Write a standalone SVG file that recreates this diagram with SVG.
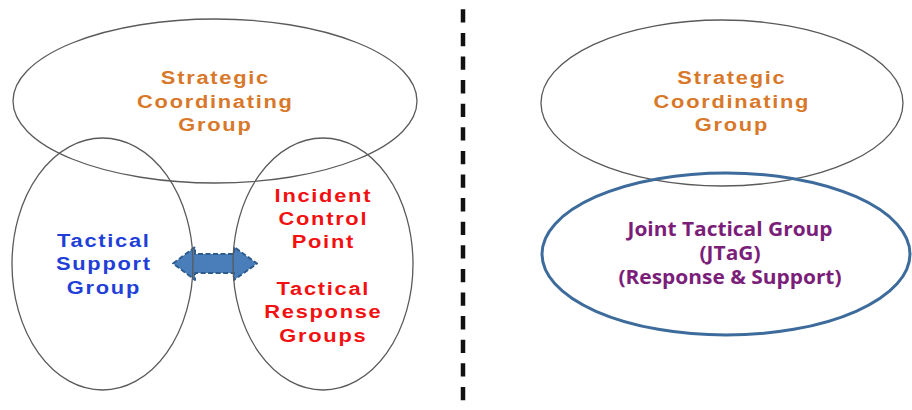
<svg xmlns="http://www.w3.org/2000/svg" width="912" height="410" viewBox="0 0 912 410">
  <style>
    .ring { fill: none; stroke: #5a5a5a; stroke-width: 1.3; }
    .lbl { font-family: "Liberation Sans", Arial, sans-serif; font-weight: bold; font-size: 19px; letter-spacing: 1.5px; text-anchor: middle; }
    .scg { fill: #D8782A; }
    .tsg { fill: #1F3FD8; }
    .red { fill: #F21010; }
    .jtg { font-family: "Open Sans", "Liberation Sans", sans-serif; font-weight: bold; font-size: 19px; text-anchor: middle; fill: #7A1E7A; }
  </style>
  <rect width="912" height="410" fill="#ffffff"/>

  <!-- two-way link between support and response groups -->
  <g id="connectors">
    <polygon points="173,263.5 195,247 195,254 234,254 234,247 257,263.5 234,280 234,273 195,273 195,280" fill="#4A7EBB" stroke="#2E5C8C" stroke-width="2" stroke-dasharray="5 2.5" stroke-linejoin="round"/>
  </g>

  <!-- page divider -->
  <line id="divider" x1="463" y1="9.3" x2="463" y2="410" stroke="#111" stroke-width="4.5" stroke-dasharray="13.3 10.3"/>

  <!-- left: current structure -->
  <g id="scg-left">
    <ellipse class="ring" cx="215" cy="101" rx="202" ry="82"/>
    <g transform="translate(214.5,0) scale(1.15,1)">
      <text class="lbl scg" x="0.75" y="84.5">Strategic</text>
      <text class="lbl scg" x="0.75" y="108">Coordinating</text>
      <text class="lbl scg" x="0.75" y="131.5">Group</text>
    </g>
  </g>

  <g id="tactical-support">
    <ellipse class="ring" cx="102.5" cy="264" rx="90.5" ry="126"/>
    <g transform="translate(103,0) scale(1.15,1)">
      <text class="lbl tsg" x="0.75" y="247">Tactical</text>
      <text class="lbl tsg" x="0.75" y="270.5">Support</text>
      <text class="lbl tsg" x="0.75" y="294">Group</text>
    </g>
  </g>

  <g id="tactical-response">
    <ellipse class="ring" cx="323" cy="264" rx="90" ry="126"/>
    <g transform="translate(322.5,0) scale(1.15,1)">
      <text class="lbl red" x="0.75" y="202">Incident</text>
      <text class="lbl red" x="0.75" y="225">Control</text>
      <text class="lbl red" x="0.75" y="248.5">Point</text>
      <text class="lbl red" x="0.75" y="295">Tactical</text>
      <text class="lbl red" x="0.75" y="318.5">Response</text>
      <text class="lbl red" x="0.75" y="342">Groups</text>
    </g>
  </g>

  <!-- right: proposed structure -->
  <g id="scg-right">
    <ellipse class="ring" cx="722" cy="103" rx="181" ry="83"/>
    <g transform="translate(731,0) scale(1.15,1)">
      <text class="lbl scg" x="0.75" y="84.5">Strategic</text>
      <text class="lbl scg" x="0.75" y="108">Coordinating</text>
      <text class="lbl scg" x="0.75" y="131.5">Group</text>
    </g>
  </g>

  <g id="jtag">
    <ellipse cx="726" cy="254" rx="184" ry="81" fill="none" stroke="#3D6B9C" stroke-width="3"/>
    <g transform="translate(730,0) scale(1.1,1)">
      <text class="jtg" x="0" y="236">Joint Tactical Group</text>
      <text class="jtg" x="0" y="260">(JTaG)</text>
      <text class="jtg" x="0" y="284">(Response &amp; Support)</text>
    </g>
  </g>
</svg>
